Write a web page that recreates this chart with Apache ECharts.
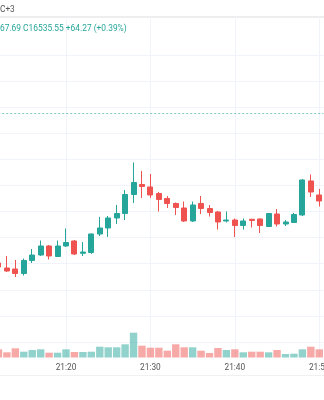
<!DOCTYPE html>
<html>
<head>
<meta charset="utf-8">
<script src="https://cdn.jsdelivr.net/npm/echarts@6/dist/echarts.min.js"></script>
<style>
html,body{margin:0;padding:0;background:#fff;}
#chart{width:324px;height:400px;}
</style>
</head>
<body>
<div id="chart"></div>
<script>
const times = ['21:12','21:13','21:14','21:15','21:16','21:17','21:18','21:19','21:20','21:21','21:22','21:23','21:24','21:25','21:26','21:27','21:28','21:29','21:30','21:31','21:32','21:33','21:34','21:35','21:36','21:37','21:38','21:39','21:40','21:41','21:42','21:43','21:44','21:45','21:46','21:47','21:48','21:49','21:50'];

// [open, close, low, high]
const ohlc = [
[16490.27,16488.74,16487.97,16491.80],
[16488.35,16487.20,16486.82,16492.95],
[16487.97,16486.25,16484.90,16491.42],
[16486.25,16491.23,16485.48,16491.99],
[16491.23,16493.33,16490.27,16495.63],
[16493.33,16496.78,16492.95,16498.89],
[16496.78,16492.95,16491.61,16497.16],
[16492.76,16496.78,16492.57,16498.89],
[16496.78,16498.12,16496.40,16503.49],
[16498.70,16493.72,16493.33,16499.08],
[16493.98,16494.48,16492.95,16498.31],
[16494.29,16501.38,16493.72,16501.57],
[16501.38,16503.68,16500.61,16507.89],
[16503.68,16507.51,16500.23,16508.28],
[16507.51,16509.23,16505.21,16512.49],
[16509.23,16516.51,16506.74,16518.24],
[16516.51,16521.11,16513.26,16528.77],
[16520.34,16519.58,16515.17,16525.52],
[16519.39,16516.32,16515.17,16524.37],
[16516.90,16514.60,16510.00,16517.47],
[16514.98,16513.07,16511.34,16515.94],
[16513.07,16511.53,16508.66,16513.45],
[16511.34,16506.36,16505.98,16513.83],
[16506.36,16512.49,16505.98,16513.83],
[16513.07,16511.15,16509.04,16515.94],
[16511.15,16509.62,16508.08,16512.49],
[16509.81,16505.98,16503.10,16510.19],
[16506.36,16506.74,16505.79,16510.00],
[16506.74,16504.64,16500.23,16507.32],
[16504.64,16506.36,16503.10,16507.32],
[16507.01,16506.55,16503.87,16507.20],
[16507.13,16504.64,16501.76,16507.32],
[16504.25,16509.23,16504.06,16509.43],
[16509.04,16505.21,16504.25,16510.96],
[16505.21,16505.98,16504.44,16506.74],
[16505.79,16508.85,16505.59,16509.43],
[16508.66,16522.07,16508.28,16522.45],
[16521.69,16517.47,16515.56,16524.18],
[16516.32,16514.02,16511.92,16518.62]
];

const volumes = [820,520,920,580,750,820,480,480,820,550,550,580,1080,1020,1020,1320,2480,1180,980,980,680,1320,1020,1020,680,450,950,750,820,520,580,580,520,750,350,380,820,1080,820];

const priceGridValues = [16570,16560,16550,16540,16530,16520,16510,16500,16490,16480,16470,16460];
const timeGridLabels = ['21:20','21:30','21:40','21:50'];
const priceLineValue = 16547.55;

const headerTopText = 'C+3';
const headerValueText = '67.69 C16535.55 +64.27 (+0.39%)';

const UP = '#26a69a', DOWN = '#ef5350';
const UP_VOL = 'rgba(38,166,154,0.5)', DOWN_VOL = 'rgba(239,83,80,0.5)';
const GRID_COLOR = '#f0f3fa';
const FONT = 'Roboto, "Noto Sans", sans-serif';

const chart = echarts.init(document.getElementById('chart'), null, {renderer: 'canvas'});

const gridLeft = -5.76, gridRight = 0.5;

const gridMarks = priceGridValues.map(v => ({yAxis: v}))
  .concat(timeGridLabels.map(t => ({xAxis: t})));

chart.setOption({
  animation: false,
  backgroundColor: '#ffffff',
  grid: [
    {left: gridLeft, right: gridRight, top: 19, bottom: 42.5, outerBoundsMode: 'none', containLabel: false},
    {left: gridLeft, right: gridRight, top: 300, bottom: 42.5, outerBoundsMode: 'none', containLabel: false}
  ],
  xAxis: [
    {type: 'category', gridIndex: 0, data: times, boundaryGap: true,
     axisLine: {show: false}, axisTick: {show: false}, axisLabel: {show: false}, splitLine: {show: false}},
    {type: 'category', gridIndex: 1, data: times, boundaryGap: true,
     axisLine: {show: false}, axisTick: {show: false}, splitLine: {show: false},
     axisLabel: {show: true, margin: 6, fontSize: 8.3, color: '#555', fontFamily: FONT,
       interval: (idx, val) => timeGridLabels.indexOf(val) >= 0}}
  ],
  yAxis: [
    {type: 'value', gridIndex: 0, min: 16454.06, max: 16583.75, show: false, splitLine: {show: false}},
    {type: 'value', gridIndex: 1, min: 0, max: 5750, show: false, splitLine: {show: false}}
  ],
  graphic: [
    {type: 'line', shape: {x1: 0, y1: 17, x2: 324, y2: 17}, style: {stroke: '#eeeeee', lineWidth: 2}, z: 10},
    {type: 'line', shape: {x1: 0, y1: 375.5, x2: 324, y2: 375.5}, style: {stroke: '#f0f0f0', lineWidth: 1}, z: 10},
    {type: 'text', left: 0, top: 6, style: {text: headerTopText, fontSize: 8.3, fill: '#555', fontFamily: FONT}, z: 10},
    {type: 'text', left: 0, top: 25, style: {text: headerValueText, fontSize: 8.4, fill: UP, fontFamily: FONT}, z: 10}
  ],
  series: [
    {
      type: 'line', xAxisIndex: 0, yAxisIndex: 0, data: [], silent: true, z: 0,
      markLine: {silent: true, symbol: 'none', z: 1, animation: false, label: {show: false},
        lineStyle: {color: GRID_COLOR, type: 'solid', width: 1}, data: gridMarks}
    },
    {
      type: 'line', xAxisIndex: 0, yAxisIndex: 0, data: [], silent: true, z: 0,
      markLine: {silent: true, symbol: 'none', z: 1, animation: false, label: {show: false},
        lineStyle: {color: '#26a69a', type: [2, 2], width: 1, opacity: 0.6}, data: [{yAxis: priceLineValue}]}
    },
    {
      type: 'candlestick', xAxisIndex: 0, yAxisIndex: 0, data: ohlc, barWidth: 5.5,
      itemStyle: {color: UP, color0: DOWN, borderColor: UP, borderColor0: DOWN, borderWidth: 1}
    },
    {
      type: 'bar', xAxisIndex: 1, yAxisIndex: 1, data: volumes, barWidth: 7.4,
      itemStyle: {color: p => (ohlc[p.dataIndex][1] >= ohlc[p.dataIndex][0] ? UP_VOL : DOWN_VOL)}
    }
  ]
});
</script>
</body>
</html>
